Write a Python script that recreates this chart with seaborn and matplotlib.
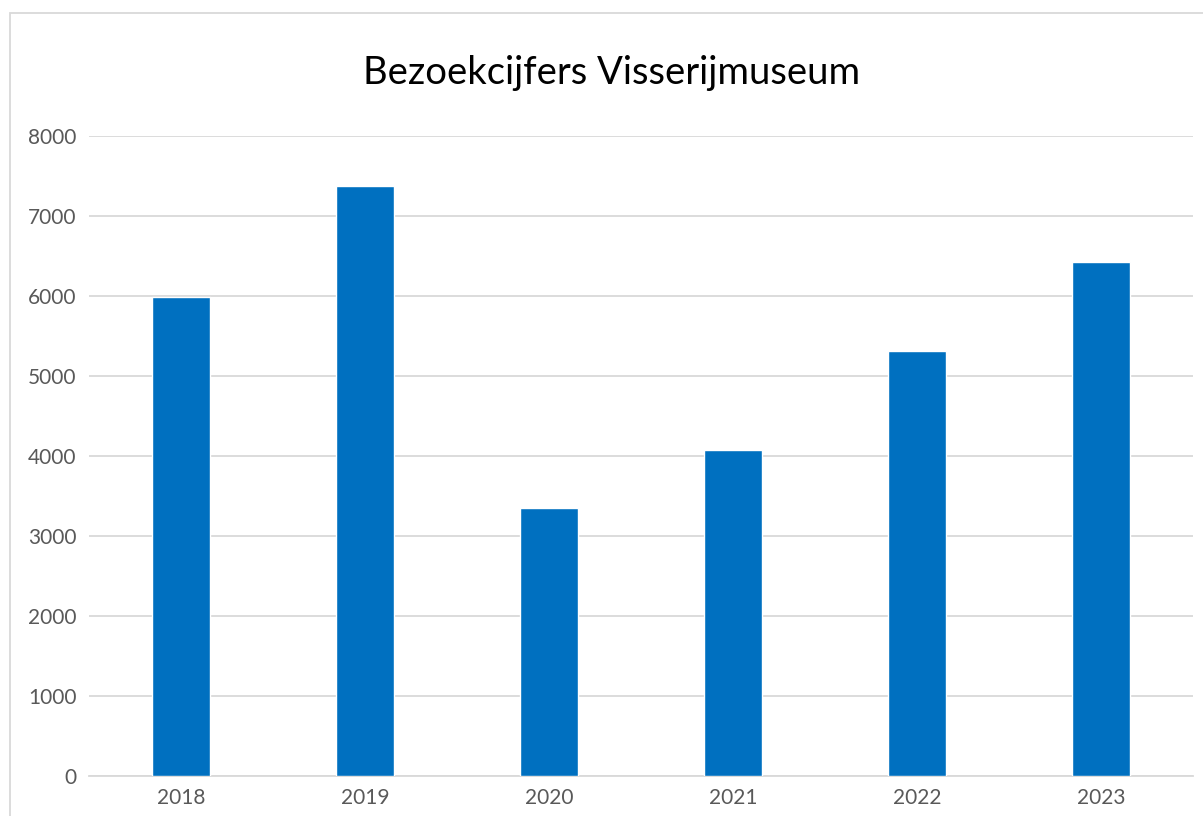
import matplotlib
matplotlib.use("Agg")
import matplotlib.pyplot as plt
import seaborn as sns
import pandas as pd
from matplotlib.patches import Rectangle

years = ["2018", "2019", "2020", "2021", "2022", "2023"]
visitors = [5985, 7375, 3350, 4075, 5312, 6425]
y_ticks = [0, 1000, 2000, 3000, 4000, 5000, 6000, 7000, 8000]
title = "Bezoekcijfers Visserijmuseum"

sns.set_theme(style="white")
plt.rcParams["font.family"] = ["Lato", "DejaVu Sans"]

df = pd.DataFrame({"year": years, "visitors": visitors})

W, H = 1203, 816
fig = plt.figure(figsize=(W / 100, H / 100), dpi=100)
ax = fig.add_axes([89 / W, 1 - 776 / H, (1193 - 89) / W, (776 - 136) / H])

sns.barplot(data=df, x="year", y="visitors", color="#0070C0", saturation=1,
            width=0.315, ax=ax, zorder=3)

ax.set_ylim(0, 8000)
ax.set_xlim(-0.5, len(years) - 0.5)
ax.set_yticks(y_ticks)
ax.set_yticklabels([str(t) for t in y_ticks])
ax.yaxis.grid(True, color="#D9D9D9", linewidth=1.3, zorder=0)
ax.set_axisbelow(True)
for s in ["left", "right", "top"]:
    ax.spines[s].set_visible(False)
ax.spines["bottom"].set_color("#D9D9D9")
ax.spines["bottom"].set_linewidth(1.3)
ax.tick_params(axis="both", length=0, labelsize=15, labelcolor="#595959")
ax.tick_params(axis="y", pad=9)
ax.tick_params(axis="x", pad=9)
ax.set_xlabel("")
ax.set_ylabel("")

fig.text(612 / W, 1 - 73 / H, title, ha="center", va="center",
         fontsize=27.5, color="#000000")

fig.patches.append(Rectangle((10 / W, -0.1), 1.2, 1 - 13 / H + 0.1,
                             transform=fig.transFigure, fill=False,
                             edgecolor="#D9D9D9", linewidth=1.3))

fig.savefig("out.png", dpi=100, facecolor="white")
